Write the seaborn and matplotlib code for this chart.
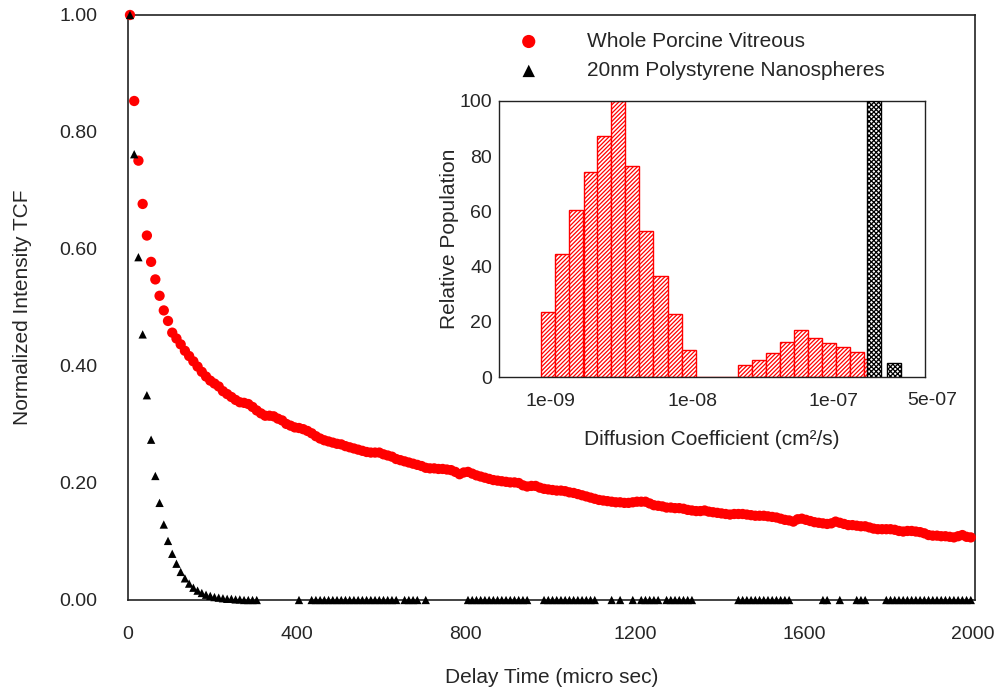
# TCF decay of porcine vitreous vs 20nm nanospheres, with D histogram inset

import numpy as np
import matplotlib
matplotlib.use("Agg")
import matplotlib.pyplot as plt
import seaborn as sns

# ---- main plot data (delay time in micro sec) ----
# vitreous sampled every 10 us starting at 5 us
vitreous_tcf = [
    1.000, 0.853, 0.751, 0.677, 0.623, 0.578, 0.548, 0.520, 0.495, 0.477,
    0.457, 0.447, 0.437, 0.426, 0.417, 0.408, 0.399, 0.390, 0.382, 0.375,
    0.370, 0.365, 0.357, 0.352, 0.347, 0.342, 0.338, 0.337, 0.335, 0.330,
    0.324, 0.319, 0.315, 0.315, 0.314, 0.310, 0.307, 0.301, 0.298, 0.295,
    0.294, 0.292, 0.289, 0.285, 0.280, 0.276, 0.273, 0.271, 0.269, 0.267,
    0.266, 0.263, 0.261, 0.259, 0.257, 0.255, 0.253, 0.252, 0.252, 0.252,
    0.249, 0.247, 0.245, 0.241, 0.239, 0.237, 0.235, 0.233, 0.231, 0.229,
    0.226, 0.225, 0.225, 0.224, 0.224, 0.223, 0.222, 0.219, 0.215, 0.218,
    0.219, 0.216, 0.213, 0.211, 0.209, 0.207, 0.205, 0.204, 0.203, 0.202,
    0.201, 0.201, 0.200, 0.196, 0.194, 0.195, 0.195, 0.192, 0.190, 0.189,
    0.188, 0.187, 0.187, 0.186, 0.184, 0.183, 0.181, 0.179, 0.177, 0.175,
    0.173, 0.171, 0.170, 0.169, 0.168, 0.167, 0.167, 0.166, 0.166, 0.167,
    0.168, 0.168, 0.168, 0.165, 0.162, 0.161, 0.160, 0.158, 0.158, 0.157,
    0.157, 0.156, 0.154, 0.153, 0.152, 0.152, 0.153, 0.151, 0.150, 0.149,
    0.148, 0.147, 0.146, 0.147, 0.147, 0.147, 0.146, 0.145, 0.144, 0.144,
    0.144, 0.143, 0.142, 0.141, 0.139, 0.137, 0.136, 0.134, 0.138, 0.139,
    0.137, 0.135, 0.133, 0.132, 0.131, 0.130, 0.131, 0.134, 0.132, 0.130,
    0.128, 0.128, 0.127, 0.126, 0.126, 0.124, 0.122, 0.121, 0.121, 0.121,
    0.121, 0.120, 0.118, 0.117, 0.118, 0.118, 0.117, 0.116, 0.114, 0.111,
    0.110, 0.110, 0.109, 0.109, 0.108, 0.107, 0.109, 0.111, 0.108, 0.107,
]
vitreous_time = np.arange(5, 5 + 10 * len(vitreous_tcf), 10)

# nanospheres: the decay, then points sitting on zero (negatives are off-axis)
nano_time = [5, 15, 25, 35, 45, 55, 65, 75, 85, 95, 105, 115, 125, 135, 145,
             155, 165, 175, 185, 195, 205, 215, 225, 235, 245, 255, 265, 275,
             285, 295, 305]
nano_tcf = [1.000, 0.762, 0.586, 0.454, 0.350, 0.274, 0.212, 0.166, 0.129,
            0.101, 0.079, 0.062, 0.048, 0.037, 0.028, 0.021, 0.016, 0.012,
            0.009, 0.007, 0.005, 0.004, 0.003, 0.002, 0.002, 0.001, 0.001,
            0.0, 0.0, 0.0, 0.0]
nano_zero_time = [405, 435, 445, 455, 465, 475, 485, 495, 505, 515, 525, 535,
                  545, 555, 565, 575, 585, 595, 605, 615, 625, 635, 655, 665,
                  675, 685, 705, 805, 815, 825, 835, 845, 855, 865, 875, 885,
                  895, 905, 915, 925, 935, 945, 985, 995, 1005, 1015, 1025,
                  1035, 1045, 1055, 1065, 1075, 1085, 1095, 1105, 1145, 1165,
                  1195, 1215, 1225, 1235, 1245, 1255, 1275, 1285, 1295, 1305,
                  1315, 1325, 1335, 1445, 1455, 1465, 1475, 1485, 1495, 1505,
                  1515, 1525, 1535, 1545, 1555, 1565, 1645, 1655, 1685, 1725,
                  1735, 1745, 1795, 1805, 1815, 1825, 1835, 1845, 1855, 1865,
                  1875, 1885, 1895, 1905, 1915, 1925, 1935, 1945, 1955, 1965,
                  1975, 1985, 1995]
nano_zero_tcf = [0.0] * len(nano_zero_time)

# ---- inset data: bin centres as log10(D / cm^2 s^-1) ----
vit_log_d = [-9.014, -8.915, -8.818, -8.717, -8.620, -8.522, -8.423, -8.323,
             -8.223, -8.123, -8.024, -7.925, -7.825, -7.725, -7.624, -7.526,
             -7.429, -7.330, -7.231, -7.132, -7.033, -6.934, -6.835, -6.736]
vit_pop = [23.5, 44.5, 60.4, 74.1, 87.1, 100.0, 76.3, 52.9, 36.7, 23.0, 9.9,
           0.0, 0.0, 0.0, 4.3, 6.3, 8.7, 12.9, 17.0, 14.2, 12.3, 10.8, 9.0, 6.5]
nano_log_d = [-6.716, -6.575]
nano_pop = [100.0, 5.1]

sns.set_style("white")
plt.rcParams['font.family'] = ['Liberation Sans', 'DejaVu Sans']
plt.rcParams['hatch.linewidth'] = 0.9

fig = plt.figure(figsize=(9.99, 6.91), dpi=100)
ax = fig.add_axes([0.128, 0.1317, 0.848, 0.8466])

sns.scatterplot(x=vitreous_time, y=vitreous_tcf, ax=ax, color='red', marker='o',
                s=55, edgecolor='none', label='Whole Porcine Vitreous',
                clip_on=False, zorder=3)
sns.scatterplot(x=nano_time + nano_zero_time, y=nano_tcf + nano_zero_tcf, ax=ax,
                color='black', marker='^', s=36, edgecolor='none',
                label='20nm Polystyrene Nanospheres', clip_on=False, zorder=4)

ax.set_xlim(0, 2005)
ax.set_ylim(0, 1.0)
ax.set_xticks([0, 400, 800, 1200, 1600, 2000])
ax.set_yticks([0, 0.2, 0.4, 0.6, 0.8, 1.0])
ax.set_yticklabels(['0.00', '0.20', '0.40', '0.60', '0.80', '1.00'])
ax.tick_params(axis='both', direction='in', length=9, width=1, labelsize=14,
               color='black')
ax.tick_params(axis='x', pad=19)
ax.tick_params(axis='y', pad=22)
for sp in ax.spines.values():
    sp.set_color('#222222')
    sp.set_linewidth(1.2)

ax.set_xlabel('Delay Time (micro sec)', fontsize=15)
ax.set_ylabel('Normalized Intensity TCF', fontsize=15)
ax.xaxis.set_label_coords(0.5, -0.117)
ax.yaxis.set_label_coords(-0.113, 0.5)

leg = ax.legend(loc='upper left', bbox_to_anchor=(0.4486, 0.971), frameon=False,
                fontsize=15, handletextpad=1.8, labelspacing=0.5, borderpad=0,
                borderaxespad=0)
leg.legend_handles[0].set_sizes([90])
leg.legend_handles[1].set_sizes([80])

# ---- inset histogram ----
ins = fig.add_axes([0.4995, 0.454, 0.4269, 0.4003])
ins.set_xscale('log')

half = 0.0495
vit_left = [10 ** (c - half) for c in vit_log_d]
vit_width = [10 ** (c + half) - 10 ** (c - half) for c in vit_log_d]
ins.bar(vit_left, vit_pop, width=vit_width, align='edge', facecolor='white',
        edgecolor='red', hatch='////////', linewidth=1.0, zorder=2)

nhalf = 0.0475
nano_left = [10 ** (c - nhalf) for c in nano_log_d]
nano_width = [10 ** (c + nhalf) - 10 ** (c - nhalf) for c in nano_log_d]
ins.bar(nano_left, nano_pop, width=nano_width, align='edge', facecolor='white',
        edgecolor='black', hatch='xxxxxxx', linewidth=1.0, zorder=3)

ins.set_xlim(4.33e-10, 4.45e-7)
ins.set_ylim(0, 100)
ins.set_yticks([0, 20, 40, 60, 80, 100])
ins.set_xticks([1e-9, 1e-8, 1e-7])
ins.set_xticklabels(['1e-09', '1e-08', '1e-07'])
ins.xaxis.set_minor_locator(matplotlib.ticker.LogLocator(base=10, subs=np.arange(2, 10)))
ins.xaxis.set_minor_formatter(matplotlib.ticker.NullFormatter())
ins.tick_params(axis='x', which='both', direction='in', length=5, width=1,
                labelsize=14, pad=11)
ins.tick_params(axis='y', length=0, labelsize=14, pad=5)
ins.text(5e-7, -0.054, '5e-07', transform=ins.get_xaxis_transform(),
         ha='center', va='top', fontsize=14)
for sp in ins.spines.values():
    sp.set_color('#222222')
    sp.set_linewidth(1.0)
ins.set_xlabel('Diffusion Coefficient (cm²/s)', fontsize=15, labelpad=15)
ins.set_ylabel('Relative Population', fontsize=15, labelpad=0)

fig.savefig('out.png', dpi=100)
